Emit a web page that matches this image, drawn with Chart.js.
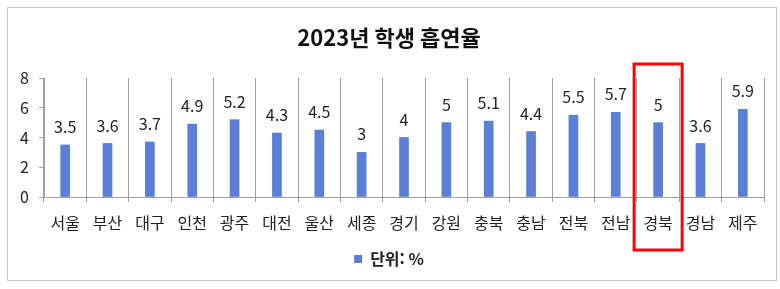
<!DOCTYPE html>
<html lang="ko">
<head>
<meta charset="UTF-8">
<title>2023년 학생 흡연율</title>
<script src="https://cdn.jsdelivr.net/npm/chart.js@4.4.1/dist/chart.umd.min.js"></script>
<style>
  html, body { margin: 0; padding: 0; background: #fff; }
  .wrap { position: relative; width: 780px; height: 289px; }
</style>
</head>
<body>
<div class="wrap"><canvas id="smokeChart" width="780" height="289"></canvas></div>
<script>
// 시도별 학생 흡연율 (단위: %)
const regions = ['서울', '부산', '대구', '인천', '광주', '대전', '울산', '세종', '경기', '강원', '충북', '충남', '전북', '전남', '경북', '경남', '제주'];
const rates = [3.5, 3.6, 3.7, 4.9, 5.2, 4.3, 4.5, 3, 4, 5, 5.1, 4.4, 5.5, 5.7, 5, 3.6, 5.9];
const yTicks = [0, 2, 4, 6, 8];
const highlightRegion = '경북';

const FONT = "'Noto Sans CJK KR', 'Noto Sans', sans-serif";

// 바깥 테두리
const frame = {
  id: 'frame',
  beforeDraw(chart) {
    const ctx = chart.ctx;
    ctx.save();
    ctx.strokeStyle = '#c4c4c4';
    ctx.lineWidth = 1;
    ctx.strokeRect(7.5, 7.5, 769, 273);
    ctx.restore();
  }
};

// 막대 위 값 표시
const valueLabels = {
  id: 'valueLabels',
  afterDatasetsDraw(chart) {
    const ctx = chart.ctx;
    const meta = chart.getDatasetMeta(0);
    ctx.save();
    ctx.font = '16px ' + FONT;
    ctx.fillStyle = '#222';
    ctx.textAlign = 'center';
    ctx.textBaseline = 'bottom';
    meta.data.forEach((bar, i) => {
      ctx.fillText(String(rates[i]), bar.x, bar.y - 10);
    });
    ctx.restore();
  }
};

// 강조 지역 빨간 상자
const highlightBox = {
  id: 'highlightBox',
  afterDraw(chart) {
    const x = chart.scales.x;
    const idx = regions.indexOf(highlightRegion);
    const cx = x.getPixelForValue(idx);
    const area = chart.chartArea;
    const ctx = chart.ctx;
    ctx.save();
    ctx.strokeStyle = '#ff0000';
    ctx.lineWidth = 3;
    ctx.strokeRect(cx - 24, area.top - 14, 48, area.bottom - area.top + 67);
    ctx.restore();
  }
};

new Chart(document.getElementById('smokeChart'), {
  type: 'bar',
  data: {
    labels: regions,
    datasets: [{
      label: '단위: %',
      data: rates,
      backgroundColor: '#5b7fd6',
      barThickness: 9
    }]
  },
  options: {
    responsive: false,
    animation: false,
    events: [],
    layout: { padding: { left: 14, right: 16, top: 0, bottom: 12 } },
    plugins: {
      title: {
        display: true,
        text: '2023년 학생 흡연율',
        color: '#111',
        font: { family: FONT, size: 22, weight: 'bold' },
        padding: { top: 24, bottom: 27.6 }
      },
      legend: {
        position: 'bottom',
        labels: {
          color: '#222',
          font: { family: FONT, size: 16, weight: 'bold' },
          boxWidth: 8,
          boxHeight: 8,
          padding: 10
        }
      },
      tooltip: { enabled: false }
    },
    scales: {
      x: {
        offset: true,
        grid: { offset: true, color: '#a0a0a0', tickLength: 5 },
        border: { color: '#a0a0a0' },
        ticks: {
          color: '#222',
          font: { family: FONT, size: 16 },
          padding: 11,
          maxRotation: 0,
          autoSkip: false
        },
        afterFit(scale) { scale.height = 44; }
      },
      y: {
        min: 0,
        max: 8,
        afterBuildTicks(scale) { scale.ticks = yTicks.map(v => ({ value: v })); },
        grid: { drawOnChartArea: false, color: '#a0a0a0', tickLength: 5 },
        border: { color: '#a0a0a0' },
        ticks: {
          color: '#222',
          font: { family: FONT, size: 16 },
          padding: 10
        },
        afterFit(scale) { scale.width = 30; }
      }
    }
  },
  plugins: [frame, valueLabels, highlightBox]
});
</script>
</body>
</html>
